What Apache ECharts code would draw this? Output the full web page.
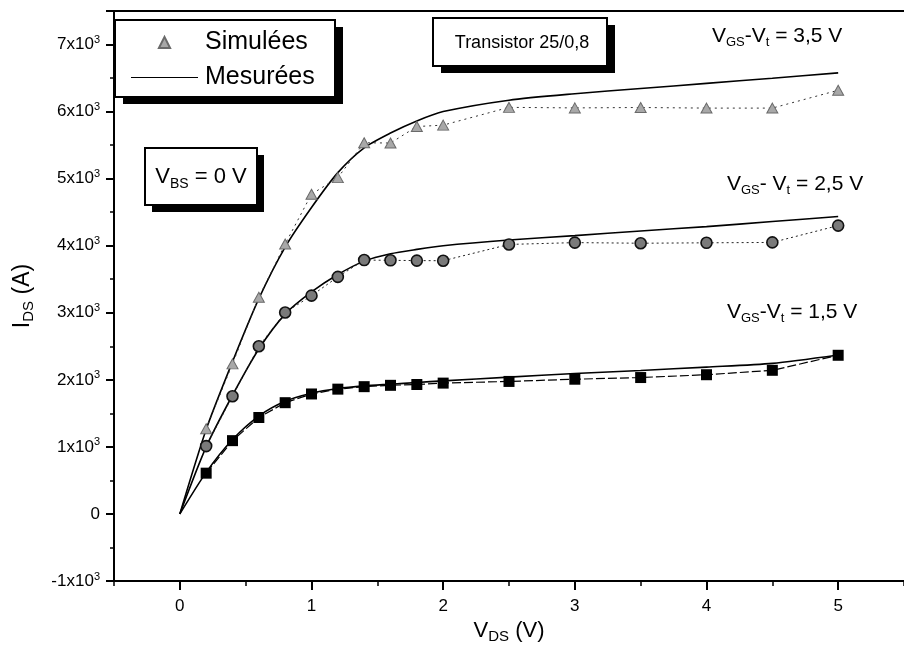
<!DOCTYPE html>
<html>
<head>
<meta charset="utf-8">
<script src="https://cdn.jsdelivr.net/npm/echarts@6.0.0/dist/echarts.min.js"></script>
<style>
html,body{margin:0;padding:0;background:#fff;}
#c{width:904px;height:653px;}
</style>
</head>
<body>
<div id="c"></div>
<script>
// ---- data ----
const xSim = [0.2, 0.4, 0.6, 0.8, 1.0, 1.2, 1.4, 1.6, 1.8, 2.0, 2.5, 3.0, 3.5, 4.0, 4.5, 5.0];
const sim35 = [1270, 2238, 3232, 4025, 4768, 5015, 5535, 5531, 5777, 5798, 6063, 6055, 6061, 6052, 6052, 6318];
const sim25 = [1012, 1755, 2500, 3004, 3255, 3535, 3786, 3782, 3778, 3776, 4019, 4046, 4037, 4043, 4049, 4300];
const sim15 = [608, 1093, 1438, 1659, 1789, 1861, 1898, 1918, 1930, 1951, 1976, 2009, 2034, 2076, 2142, 2366];

const xMes = [0, 0.2, 0.4, 0.6, 0.8, 1.0, 1.2, 1.4, 1.6, 1.8, 2.0, 2.5, 3.0, 3.5, 4.0, 4.5, 5.0];
const mes35 = [0, 1260, 2270, 3210, 3980, 4570, 5090, 5460, 5680, 5860, 6000, 6170, 6266, 6344, 6421, 6498, 6577];
const mes25 = [0, 1000, 1770, 2460, 2980, 3310, 3570, 3770, 3880, 3945, 4000, 4085, 4150, 4220, 4285, 4360, 4435];
const mes15 = [0, 620, 1110, 1460, 1680, 1800, 1870, 1910, 1935, 1960, 1985, 2040, 2095, 2140, 2190, 2245, 2370];

const xTickLabels = [0, 1, 2, 3, 4, 5];
const legendNames = ['Simulées', 'Mesurées'];
const curveLabels = ['3,5 V', '2,5 V', '1,5 V'];

const pairs = (xs, ys) => xs.map((x, i) => [x, ys[i]]);
const FONT = "'Liberation Sans', Arial, Helvetica, sans-serif";

const chart = echarts.init(document.getElementById('c'), null, {renderer: 'canvas'});

const simBase = {type: 'line', name: legendNames[0], smooth: false, z: 3};
const mesBase = {type: 'line', name: legendNames[1], smooth: 0.25, symbol: 'none',
  lineStyle: {color: '#000', width: 1.6}, itemStyle: {color: '#000'}, z: 2};

const vgsRich = {
  v: {fontSize: 21, fontFamily: FONT, color: '#000', lineHeight: 26},
  s: {fontSize: 13, fontFamily: FONT, color: '#000', lineHeight: 12, verticalAlign: 'bottom'}
};

const option = {
  backgroundColor: '#fff',
  animation: false,
  grid: {left: 114, right: -8, top: 11, bottom: 72, containLabel: false},
  xAxis: [
    {
      type: 'value', position: 'bottom', min: -0.5, max: 5.5, interval: 0.5,
      axisLine: {show: true, onZero: false, lineStyle: {color: '#000', width: 2}},
      axisTick: {show: true, inside: false, length: 5, lineStyle: {color: '#000', width: 1.5}},
      axisLabel: {customValues: xTickLabels, margin: 17, fontSize: 17, fontFamily: FONT, color: '#000',
        formatter: v => String(v)},
      splitLine: {show: false},
      name: '{m|V}{s|DS}{m| (V)}', nameLocation: 'middle', nameGap: 34,
      nameTextStyle: {rich: {
        m: {fontSize: 22, fontFamily: FONT, color: '#000', lineHeight: 26},
        s: {fontSize: 15, fontFamily: FONT, color: '#000', lineHeight: 14, verticalAlign: 'bottom'}
      }}
    },
    {
      type: 'value', position: 'bottom', min: -0.5, max: 5.5, interval: 0.5,
      axisLine: {show: false, onZero: false},
      axisTick: {show: true, inside: false, length: 9, customValues: xTickLabels, lineStyle: {color: '#000', width: 2}},
      axisLabel: {show: false}, splitLine: {show: false}
    },
    {
      type: 'value', position: 'top', min: -0.5, max: 5.5,
      axisLine: {show: true, onZero: false, lineStyle: {color: '#000', width: 2}},
      axisTick: {show: false}, axisLabel: {show: false}, splitLine: {show: false}
    }
  ],
  yAxis: {
    type: 'value', min: -1000, max: 7500, interval: 1000,
    axisLine: {show: true, onZero: false, lineStyle: {color: '#000', width: 2}},
    axisTick: {show: true, inside: false, length: 8, lineStyle: {color: '#000', width: 2}},
    minorTick: {show: true, splitNumber: 2, length: 4, lineStyle: {color: '#000', width: 1.5}},
    splitLine: {show: false}, minorSplitLine: {show: false},
    axisLabel: {
      margin: 14, fontFamily: FONT, color: '#000',
      formatter: v => {
        if (v === 0) return '{b|0}';
        if (v % 1000 !== 0) return '';
        return '{b|' + (v / 1000) + 'x10}{p|3}';
      },
      rich: {
        b: {fontSize: 17, fontFamily: FONT, color: '#000', lineHeight: 20},
        p: {fontSize: 11, fontFamily: FONT, color: '#000', lineHeight: 11, verticalAlign: 'top'}
      }
    },
    name: '{m|I}{s|DS}{m| (A)}', nameLocation: 'middle', nameGap: 78,
    nameTextStyle: {rich: {
      m: {fontSize: 23, fontFamily: FONT, color: '#000', lineHeight: 26},
      s: {fontSize: 15, fontFamily: FONT, color: '#000', lineHeight: 14, verticalAlign: 'bottom'}
    }}
  },
  legend: {
    orient: 'vertical', left: 115, top: 20,
    padding: [10, 20, 8, 15], itemGap: 10, itemWidth: 67, itemHeight: 14,
    selectedMode: false,
    textStyle: {fontSize: 25, fontFamily: FONT, color: '#000', padding: [0, 0, 0, 2]},
    data: [
      {name: legendNames[0], lineStyle: {color: 'rgba(0,0,0,0)', opacity: 0}},
      {name: legendNames[1], icon: 'path://M0,0H100V1.6H0Z', itemStyle: {color: '#000'}}
    ],
    z: 30
  },
  series: [
    Object.assign({}, simBase, {
      data: pairs(xSim, sim35), symbol: 'triangle', symbolSize: [11, 10],
      itemStyle: {color: '#a8a8a8', borderColor: '#6a6a6a', borderWidth: 1},
      lineStyle: {color: '#333', width: 1, type: [2, 4]}
    }),
    Object.assign({}, simBase, {
      data: pairs(xSim, sim25), symbol: 'circle', symbolSize: 11,
      itemStyle: {color: '#7a7a7a', borderColor: '#111', borderWidth: 1.6},
      lineStyle: {color: '#222', width: 1, type: [2, 3]}
    }),
    Object.assign({}, simBase, {
      data: pairs(xSim, sim15), symbol: 'rect', symbolSize: 11,
      itemStyle: {color: '#000'},
      lineStyle: {color: '#000', width: 1.2, type: [9, 3]}
    }),
    Object.assign({}, mesBase, {data: pairs(xMes, mes35)}),
    Object.assign({}, mesBase, {data: pairs(xMes, mes25)}),
    Object.assign({}, mesBase, {data: pairs(xMes, mes15)})
  ],
  graphic: [
    // legend box
    {type: 'rect', z: 20, shape: {x: 123, y: 27, width: 220, height: 77}, style: {fill: '#000'}},
    {type: 'rect', z: 21, shape: {x: 115, y: 20, width: 220, height: 77}, style: {fill: '#fff', stroke: '#000', lineWidth: 2}},
    // Transistor box
    {type: 'rect', z: 20, shape: {x: 441, y: 25, width: 174, height: 48}, style: {fill: '#000'}},
    {type: 'rect', z: 21, shape: {x: 433, y: 18, width: 174, height: 48}, style: {fill: '#fff', stroke: '#000', lineWidth: 2}},
    {type: 'text', z: 22, style: {text: 'Transistor 25/0,8', x: 522, y: 43, fontSize: 18, fontFamily: FONT, fill: '#000',
      textAlign: 'center', textVerticalAlign: 'middle'}},
    // V_BS box
    {type: 'rect', z: 20, shape: {x: 152, y: 155, width: 112, height: 57}, style: {fill: '#000'}},
    {type: 'rect', z: 21, shape: {x: 145, y: 148, width: 112, height: 57}, style: {fill: '#fff', stroke: '#000', lineWidth: 2}},
    {type: 'text', z: 22, style: {text: '{v|V}{s|BS}{v| = 0 V}', x: 201, y: 177, textAlign: 'center', textVerticalAlign: 'middle',
      rich: {
        v: {fontSize: 22, fontFamily: FONT, fill: '#000', lineHeight: 28},
        s: {fontSize: 14, fontFamily: FONT, fill: '#000', lineHeight: 14, verticalAlign: 'bottom'}
      }}},
    // curve labels
    {type: 'text', z: 22, style: {text: '{v|V}{s|GS}{v|-V}{s|t}{v| = ' + curveLabels[0] + '}', x: 712, y: 36,
      textAlign: 'left', textVerticalAlign: 'middle', rich: vgsRich}},
    {type: 'text', z: 22, style: {text: '{v|V}{s|GS}{v|- V}{s|t}{v| = ' + curveLabels[1] + '}', x: 727, y: 184,
      textAlign: 'left', textVerticalAlign: 'middle', rich: vgsRich}},
    {type: 'text', z: 22, style: {text: '{v|V}{s|GS}{v|-V}{s|t}{v| = ' + curveLabels[2] + '}', x: 727, y: 312,
      textAlign: 'left', textVerticalAlign: 'middle', rich: vgsRich}}
  ]
};

chart.setOption(option);
</script>
</body>
</html>
